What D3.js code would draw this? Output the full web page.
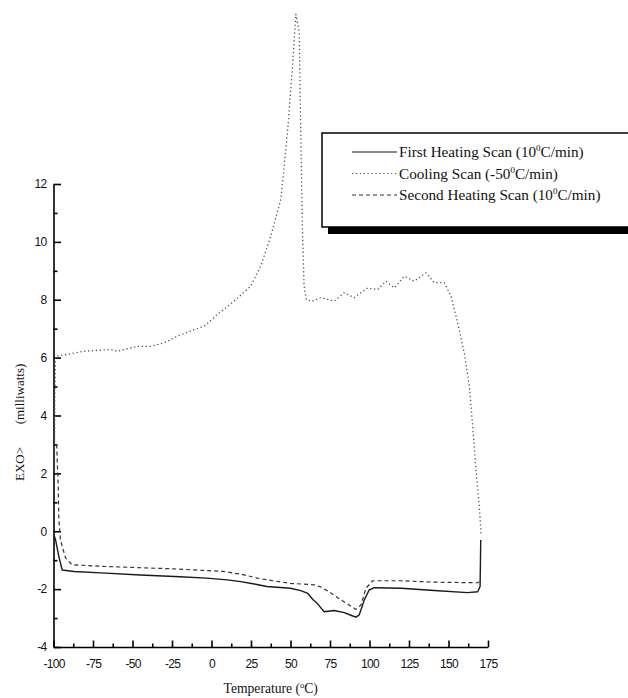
<!DOCTYPE html>
<html>
<meta charset="utf-8">
<head>
<title>DSC scans</title>
<style>
  body { margin: 0; background: #fff; }
  .axis path, .axis line { stroke: #000; stroke-width: 1.6px; }
  .axis text { font-family: "Liberation Sans", Arial, sans-serif; font-size: 12px; letter-spacing: -0.7px; fill: #111; }
  .title { font-family: "Liberation Serif", "Times New Roman", serif; font-size: 13px; fill: #111; }
  .legend text { font-family: "Liberation Serif", "Times New Roman", serif; font-size: 15.2px; fill: #111; }
</style>
</head>
<body>
<script src="https://cdn.jsdelivr.net/npm/d3@7"></script>
<script>

// data: [temperature (C), heat flow (mW)]
var firstHeating = [[-99.6,-0.15],[-98.7,-0.3],[-96.5,-0.9],[-94.5,-1.34],[-87,-1.39],[-70,-1.44],[-45,-1.51],
  [-20,-1.57],[-3,-1.62],[10,-1.68],[18.5,-1.74],[28,-1.83],[35,-1.91],[50,-1.97],[56.5,-2.05],[61,-2.15],
  [64,-2.35],[67,-2.5],[71.3,-2.78],[77.6,-2.74],[84,-2.81],[89,-2.92],[91.4,-2.97],[93.5,-2.89],[95,-2.65],
  [96.7,-2.37],[99.8,-2.03],[103,-1.95],[120,-1.97],[141,-2.05],[162,-2.12],[168.5,-2.09],[170,-1.91],[170.4,-0.3]];

var coolingScan = [[170.6,-0.07],[169.5,0.85],[167.4,2.12],[165.3,3.62],[163.2,5.01],[160,6.16],[155.8,7.2],
  [151.6,8.12],[147.4,8.59],[141,8.59],[135.7,8.93],[128.3,8.64],[122,8.81],[115.7,8.41],[110.4,8.64],
  [105.1,8.35],[98.8,8.41],[90.3,8.07],[84,8.24],[77.6,7.95],[69.2,8.07],[63.9,7.95],[60,8.0],[58.6,8.47],
  [57.6,10.31],[56.5,13.78],[55.5,17.24],[53.4,17.87],[51.3,16.08],[48.1,13.78],[43.9,11.47],[37.5,10.2],
  [31.2,9.16],[24.8,8.47],[14.3,7.95],[3.7,7.49],[-4.8,7.08],[-11.1,6.97],[-21.6,6.74],[-30.1,6.51],
  [-38.5,6.39],[-47,6.39],[-59.6,6.22],[-63.9,6.28],[-80.8,6.22],[-98.7,6.04],[-99.2,4.5],[-99.4,2.0]];

var secondHeating = [[-98,3.0],[-97,1.5],[-96.6,0.39],[-95.6,-0.3],[-92.4,-0.92],[-88.2,-1.16],[-66,-1.22],
  [-24,-1.30],[8,-1.39],[20,-1.5],[29,-1.62],[40,-1.72],[50,-1.80],[65,-1.85],[69,-1.92],[73.4,-2.06],
  [81.9,-2.37],[88,-2.58],[91.4,-2.70],[94.6,-2.55],[97.7,-1.97],[102,-1.71],[120,-1.71],[141,-1.76],
  [168.5,-1.78],[170.4,-1.7]];

var xTicks = [-100, -75, -50, -25, 0, 25, 50, 75, 100, 125, 150, 175];
var yTicks = [-4, -2, 0, 2, 4, 6, 8, 10, 12];
var seriesNames = ["First Heating Scan", "Cooling Scan", "Second Heating Scan"];
var seriesRates = ["10", "-50", "10"];

var width = 628, height = 698;

var x = d3.scaleLinear().domain([-100, 175]).range([53.5, 488]);
var y = d3.scaleLinear().domain([-4, 12]).range([647, 184]);

// plain hyphen minus like the original
var fmt = function(d) { return String(d); };

var svg = d3.select("body").append("svg")
  .attr("width", width)
  .attr("height", height);

// minor ticks
svg.append("g")
  .attr("class", "axis")
  .attr("transform", "translate(0," + y(-4) + ")")
  .call(d3.axisBottom(x).tickValues(d3.range(-87.5, 175, 25)).tickSize(-3.5).tickFormat(""))
  .select(".domain").remove();
svg.append("g")
  .attr("class", "axis")
  .attr("transform", "translate(" + x(-100) + ",0)")
  .call(d3.axisLeft(y).tickValues(d3.range(-3, 12, 2)).tickSize(-4).tickFormat(""))
  .select(".domain").remove();

// main axes
svg.append("g")
  .attr("class", "axis")
  .attr("transform", "translate(0," + y(-4) + ")")
  .call(d3.axisBottom(x).tickValues(xTicks).tickFormat(fmt).tickSizeInner(-6.5).tickSizeOuter(0).tickPadding(12));

svg.append("g")
  .attr("class", "axis")
  .attr("transform", "translate(" + x(-100) + ",0)")
  .call(d3.axisLeft(y).tickValues(yTicks).tickFormat(fmt).tickSizeInner(-7.5).tickSizeOuter(0).tickPadding(7));

// axis titles
var xt = svg.append("text")
  .attr("class", "title")
  .style("font-size", "13.6px")
  .attr("x", (x(-100) + x(175)) / 2)
  .attr("y", 693)
  .attr("text-anchor", "middle");
xt.append("tspan").text("Temperature (");
xt.append("tspan").attr("dy", -5).attr("font-size", "8.5px").text("o");
xt.append("tspan").attr("dy", 5).text("C)");

svg.append("text")
  .attr("class", "title")
  .attr("transform", "translate(24,394) rotate(-90)")
  .attr("text-anchor", "middle")
  .text("(milliwatts)");
svg.append("text")
  .attr("class", "title")
  .attr("transform", "translate(24,464) rotate(-90)")
  .attr("text-anchor", "middle")
  .text("EXO>");

// curves
var line = d3.line()
  .x(function(d) { return x(d[0]); })
  .y(function(d) { return y(d[1]); });

var dashes = ["none", "1.3,2.6", "4,3"];
var strokes = ["#1a1a1a", "#555", "#333"];
var widths = [1.4, 1.3, 1.2];

[firstHeating, coolingScan, secondHeating].forEach(function(data, i) {
  svg.append("path")
    .datum(data)
    .attr("fill", "none")
    .attr("stroke", strokes[i])
    .attr("stroke-width", widths[i])
    .attr("stroke-dasharray", dashes[i])
    .attr("stroke-linejoin", "round")
    .attr("d", line);
});

// legend box with drop shadow
var legend = svg.append("g").attr("class", "legend");
legend.append("rect")
  .attr("x", 328).attr("y", 139)
  .attr("width", 320).attr("height", 95)
  .attr("fill", "#000");
legend.append("rect")
  .attr("x", 322).attr("y", 133)
  .attr("width", 320).attr("height", 94)
  .attr("fill", "#fff")
  .attr("stroke", "#000")
  .attr("stroke-width", 1.5);

var item = legend.selectAll(".item")
  .data(seriesNames)
  .enter().append("g")
  .attr("class", "item")
  .attr("transform", function(d, i) { return "translate(0," + (152 + i * 21.5) + ")"; });

item.append("line")
  .attr("x1", 352).attr("x2", 397)
  .attr("stroke", function(d, i) { return strokes[i]; })
  .attr("stroke-width", 1.2)
  .attr("stroke-dasharray", function(d, i) { return dashes[i]; });

var lt = item.append("text")
  .attr("x", 399)
  .attr("y", 5);
lt.append("tspan").text(function(d, i) { return d + " (" + seriesRates[i]; });
lt.append("tspan").attr("dy", -6).attr("font-size", "9px").text("0");
lt.append("tspan").attr("dy", 6).text("C/min)");

</script>
</body>
</html>
